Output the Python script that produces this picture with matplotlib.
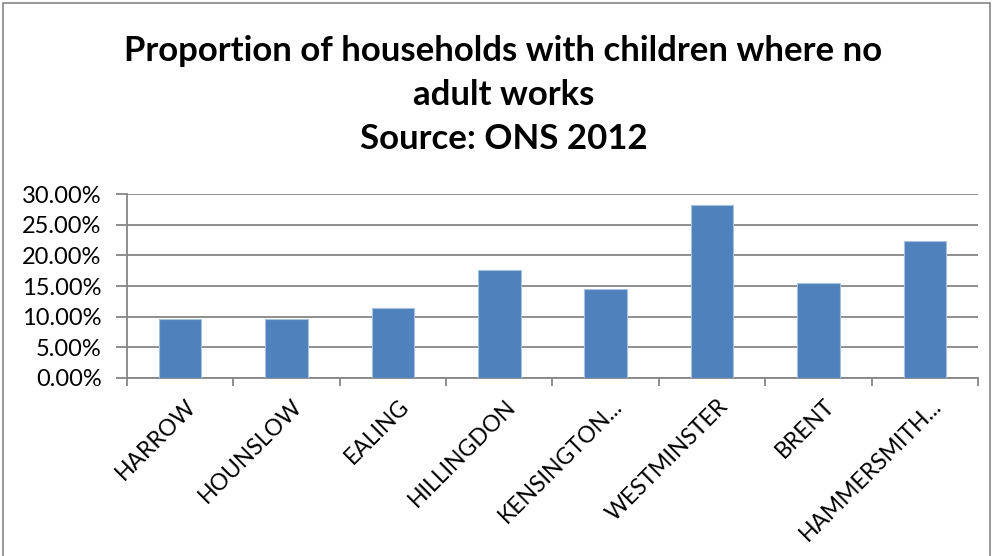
import matplotlib
matplotlib.use("Agg")
import matplotlib.pyplot as plt
from matplotlib.ticker import FuncFormatter, FixedLocator
from matplotlib.patches import Rectangle

boroughs = ["HARROW", "HOUNSLOW", "EALING", "HILLINGDON", "KENSINGTON...",
            "WESTMINSTER", "BRENT", "HAMMERSMITH..."]
share = [0.0955, 0.0955, 0.114, 0.176, 0.145, 0.282, 0.155, 0.223]
y_ticks = [0.0, 0.05, 0.10, 0.15, 0.20, 0.25, 0.30]

bar_color = "#4F81BD"
grid_color = "#868686"
font = "Lato"

fig = plt.figure(figsize=(9.95, 5.56), dpi=100)
ax = fig.add_axes([0.1273, 0.3207, 0.8559, 0.3298])

x = list(range(len(boroughs)))
ax.bar(x, share, width=0.4, color=bar_color, edgecolor="#A7C0DE", linewidth=0.8, zorder=3)

ax.set_xlim(-0.5, len(boroughs) - 0.5)
ax.set_ylim(0, 0.30)
ax.yaxis.set_major_locator(FixedLocator(y_ticks))
ax.yaxis.set_major_formatter(FuncFormatter(lambda v, p: f"{v*100:.2f}%"))
ax.grid(axis="y", color=grid_color, linewidth=1.3, zorder=0)

for s in ["top", "right"]:
    ax.spines[s].set_visible(False)
for s in ["left", "bottom"]:
    ax.spines[s].set_color(grid_color)
    ax.spines[s].set_linewidth(1.3)

# category separators on the x axis
ax.xaxis.set_major_locator(FixedLocator([i - 0.5 for i in range(len(boroughs) + 1)]))
ax.xaxis.set_ticklabels([])
ax.tick_params(axis="x", length=6, width=1.3, color=grid_color, direction="out")
ax.tick_params(axis="y", length=8, width=1.3, color=grid_color, direction="out",
               labelsize=17, pad=10)
for lbl in ax.get_yticklabels():
    lbl.set_fontfamily(font)

for i, name in enumerate(boroughs):
    ax.text(i + 0.05, -0.029, name, rotation=45, ha="right", va="top",
            rotation_mode="anchor", fontsize=16.5, family=font,
            transform=ax.transData)

title_lines = ["Proportion of households with children where no", "adult works",
               "Source: ONS 2012"]
for k, line in enumerate(title_lines):
    fig.text(0.506, 1 - (51 + 44 * k) / 556, line, ha="center", va="center",
             fontsize=25, fontweight="bold", family=font)

fig.patches.append(Rectangle((3 / 995, -0.01), 987 / 995, 1 - 3 / 556 + 0.01,
                             transform=fig.transFigure, fill=False,
                             edgecolor=grid_color, linewidth=1.2))

fig.savefig("out.png", dpi=100)
